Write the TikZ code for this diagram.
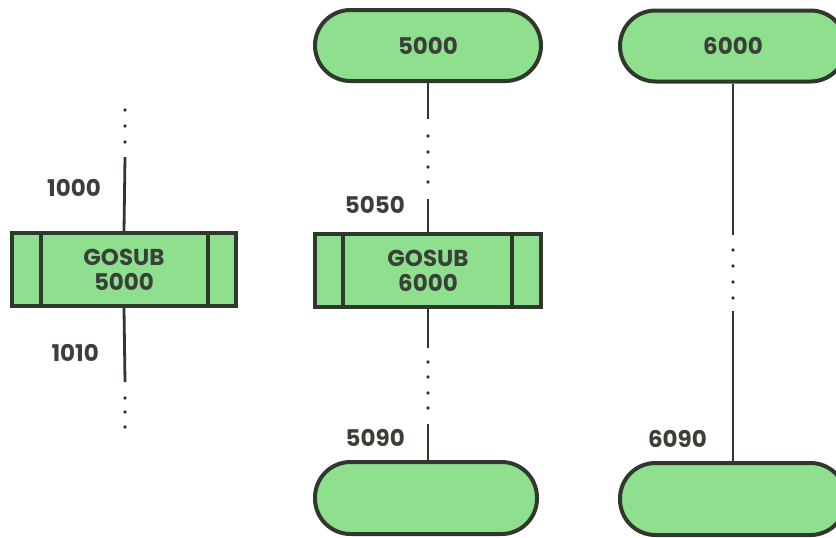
\documentclass[tikz,border=0pt]{standalone}
\usepackage{fontspec}
\setmainfont{Poppins}
\definecolor{boxfill}{RGB}{142,224,142}
\definecolor{ink}{RGB}{48,56,46}
\definecolor{txt}{RGB}{58,64,56}
\begin{document}
\begin{tikzpicture}[x=1pt,y=-1pt,
  terminal/.style={draw=ink, fill=boxfill, line width=4pt, rectangle,
    minimum width=226pt, minimum height=71pt, rounded corners=35.5pt,
    inner sep=0pt, font=\fontsize{23}{25}\selectfont\bfseries, text=txt},
  subbox/.style={draw=ink, fill=boxfill, line width=4pt, rectangle,
    minimum width=224pt, minimum height=73pt, inner sep=0pt,
    align=center, font=\fontsize{23}{25}\selectfont\bfseries, text=txt},
  lineno/.style={anchor=east, inner sep=0pt, text=txt,
    font=\fontsize{23}{25}\selectfont\bfseries},
  flow/.style={draw=ink, line width=2.8pt},
  dot/.style={circle, fill=ink, inner sep=0pt, minimum size=3.6pt}]
\clip (0,0) rectangle (836,538);
\useasboundingbox (0,0) rectangle (836,538);

% --- main program ---------------------------------------------------
\node[subbox] (call1) at (124,269.5) {GOSUB\\5000};
\draw[ink, line width=4pt] ([xshift=31pt]call1.north west) -- ([xshift=31pt]call1.south west);
\draw[ink, line width=4pt] ([xshift=-30pt]call1.north east) -- ([xshift=-30pt]call1.south east);
\coordinate (m1a) at (125,157);
\coordinate (m1b) at (125,382);
\draw[flow] (m1a) -- (call1.north);
\draw[flow] (call1.south) -- (m1b);
\foreach \y [count=\i] in {110,126,142} \node[dot] (m1u\i) at (125,\y) {};
\foreach \y [count=\i] in {398,412,427} \node[dot] (m1d\i) at (125,\y) {};
\node[lineno] (l1000) at (101,188) {1000};
\node[lineno] (l1010) at (99,353) {1010};

% --- subroutine 5000 -----------------------------------------------
\node[terminal] (s5000) at (428,45.5) {5000};
\node[subbox, minimum width=226pt] (call2) at (428,270.5) {GOSUB\\6000};
\draw[ink, line width=4pt] ([xshift=30pt]call2.north west) -- ([xshift=30pt]call2.south west);
\draw[ink, line width=4pt] ([xshift=-31pt]call2.north east) -- ([xshift=-31pt]call2.south east);
\node[terminal, minimum width=222pt, minimum height=72pt] (r5000) at (426,498) {};
\coordinate (s5a) at (428,119);
\coordinate (s5b) at (428,199);
\coordinate (s5c) at (428,348);
\coordinate (s5d) at (428,424);
\draw[flow] (s5000.south) -- (s5a);
\draw[flow] (s5b) -- (call2.north);
\draw[flow] (call2.south) -- (s5c);
\draw[flow] (s5d) -- (r5000.north -| s5d);
\foreach \y [count=\i] in {136,152,167,182} \node[dot] (s5u\i) at (428,\y) {};
\foreach \y [count=\i] in {362,377,393,408} \node[dot] (s5d\i) at (428,\y) {};
\node[lineno] (l5050) at (405,205) {5050};
\node[lineno] (l5090) at (405,438) {5090};

% --- subroutine 6000 -----------------------------------------------
\node[terminal] (s6000) at (733,46) {6000};
\node[terminal, minimum height=72pt] (r6000) at (733,499) {};
\coordinate (s6a) at (733,235);
\coordinate (s6b) at (733,311);
\draw[flow] (s6000.south) -- (s6a);
\draw[flow] (s6b) -- (r6000.north);
\foreach \y [count=\i] in {250,266,282,298} \node[dot] (s6m\i) at (733,\y) {};
\node[lineno] (l6090) at (707,439) {6090};
\end{tikzpicture}
\end{document}
